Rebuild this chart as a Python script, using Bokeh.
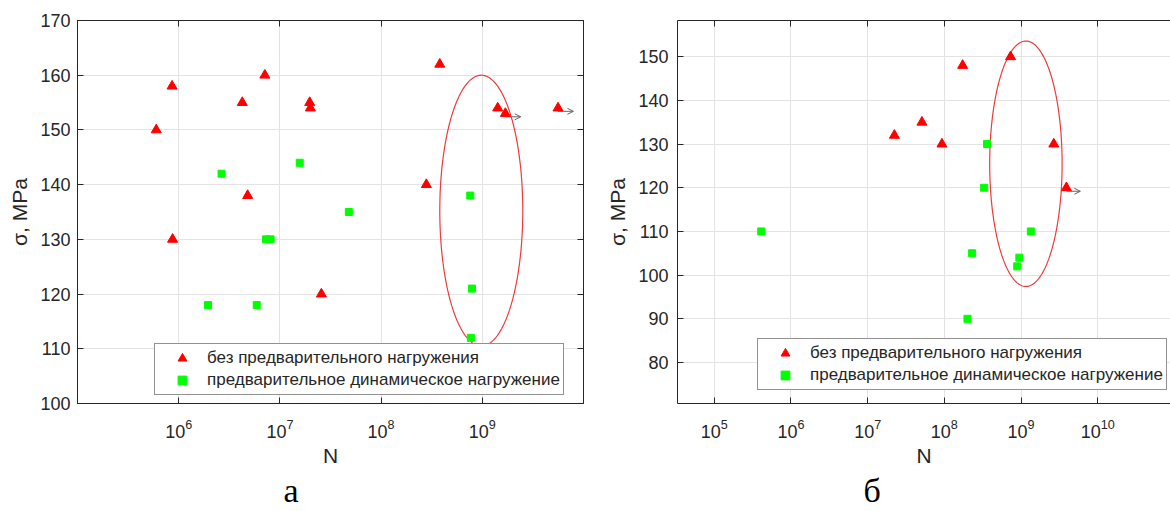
import numpy as np
from bokeh.plotting import figure
from bokeh.layouts import row
from bokeh.models import (LogAxis, LinearAxis, FixedTicker, Legend, LegendItem, Arrow,
                          OpenHead, Title, CustomJSTickFormatter, ColumnDataSource, Range1d)
from bokeh.embed import file_html
from bokeh.resources import INLINE

# ---------------- data: panel "а" ----------------
a_red_N = [6.0e5, 8.6e5, 8.7e5, 4.25e6, 4.8e6, 7.1e6, 1.97e7, 2.0e7, 2.57e7, 2.8e8, 3.8e8, 1.42e9, 1.69e9, 5.6e9]
a_red_S = [150, 158, 130, 155, 138, 160, 155, 154, 120, 140, 162, 154, 153, 154]
a_green_N = [1.95e6, 2.65e6, 5.9e6, 7.3e6, 8.1e6, 1.57e7, 4.8e7, 7.6e8, 7.9e8, 7.7e8]
a_green_S = [118, 142, 118, 130, 130, 144, 135, 138, 121, 112]
a_runout_N = [1.69e9, 5.6e9]
a_runout_S = [153, 154]
a_x_ticks = [1e6, 1e7, 1e8, 1e9]
a_y_ticks = [100, 110, 120, 130, 140, 150, 160, 170]
a_ellipse = dict(logN=8.99, S=135.25, half_log=0.41, half_S=24.75)

# ---------------- data: panel "б" ----------------
b_red_N = [2.23e7, 5.1e7, 9.3e7, 1.73e8, 7.3e8, 2.67e9, 3.9e9]
b_red_S = [132, 135, 130, 148, 150, 130, 120]
b_green_N = [4.1e5, 2.0e8, 2.3e8, 3.3e8, 3.6e8, 8.9e8, 9.5e8, 1.34e9]
b_green_S = [110, 90, 105, 120, 130, 102, 104, 110]
b_runout_N = [3.9e9]
b_runout_S = [120]
b_x_ticks = [1e5, 1e6, 1e7, 1e8, 1e9, 1e10]
b_y_ticks = [80, 90, 100, 110, 120, 130, 140, 150]
b_ellipse = dict(logN=9.063, S=125.5, half_log=0.472, half_S=28.1)

legend_labels = ["без предварительного нагружения", "предварительное динамическое нагружение"]
y_label = "σ, MPa"
x_label = "N"

FONT = "Liberation Sans"
AX = "#262626"
GRID = "#e3e3e3"


def panel(red_N, red_S, green_N, green_S, run_N, run_S, xt, yt, ell, caption,
          width, height, xr, yr, mb, legend_loc, caption_offset, arrow_ratio, arrow_dy,
          ylab_standoff, right_border=True):
    p = figure(width=width, height=height, x_axis_type="log",
               x_range=Range1d(*xr), y_range=Range1d(*yr),
               output_backend="svg", toolbar_location=None,
               min_border_left=mb[0], min_border_right=mb[1],
               min_border_top=mb[2], min_border_bottom=mb[3],
               background_fill_color="white", border_fill_color="white")
    p.outline_line_color = AX if right_border else None

    for ax in (p.xaxis[0], p.yaxis[0]):
        ax.axis_line_color = AX
        ax.major_tick_line_color = AX
        ax.major_tick_in = 6
        ax.major_tick_out = 0
        ax.minor_tick_in = 0
        ax.minor_tick_out = 0
        ax.major_label_text_font = FONT
        ax.major_label_text_font_size = "18px"
        ax.major_label_text_color = AX
        ax.axis_label_text_font = FONT
        ax.axis_label_text_font_size = "21px"
        ax.axis_label_text_font_style = "normal"
        ax.axis_label_text_color = AX
    p.xaxis.ticker = FixedTicker(ticks=xt)
    p.yaxis.ticker = FixedTicker(ticks=yt)
    p.xaxis.axis_label = x_label
    p.yaxis.axis_label = y_label
    p.xaxis.major_label_standoff = 15
    p.xaxis.axis_label_standoff = 3
    p.yaxis.major_label_standoff = ylab_standoff
    p.yaxis.axis_label_standoff = 6

    p.xgrid.ticker = FixedTicker(ticks=xt)
    p.ygrid.ticker = FixedTicker(ticks=yt)
    p.xgrid.grid_line_color = GRID
    p.ygrid.grid_line_color = GRID

    empty = CustomJSTickFormatter(code="return ''")
    top = LogAxis(ticker=FixedTicker(ticks=xt), formatter=empty, axis_line_color=AX,
                  major_tick_line_color=AX, major_tick_in=6, major_tick_out=0,
                  minor_tick_in=0, minor_tick_out=0, major_label_standoff=0,
                  major_label_text_font_size="0px")
    p.add_layout(top, "above")
    if right_border:
        rgt = LinearAxis(ticker=FixedTicker(ticks=yt), formatter=empty, axis_line_color=AX,
                         major_tick_line_color=AX, major_tick_in=6, major_tick_out=0,
                         minor_tick_in=0, minor_tick_out=0, major_label_standoff=0,
                         major_label_text_font_size="0px")
        p.add_layout(rgt, "right")

    # ellipse outline (computed from its centre and half-axes)
    t = np.linspace(0, 2 * np.pi, 240)
    ex = 10 ** (ell["logN"] + ell["half_log"] * np.cos(t))
    ey = ell["S"] + ell["half_S"] * np.sin(t)
    p.line(ex, ey, line_color="#f03a3a", line_width=1.2)

    # run-out arrows
    rn = np.array(run_N, dtype=float)
    rs = np.array(run_S, dtype=float)
    asrc = ColumnDataSource(dict(x0=rn, y0=rs - arrow_dy, x1=rn * arrow_ratio, y1=rs - arrow_dy))
    p.add_layout(Arrow(end=OpenHead(size=6, line_color="#666666", line_width=1),
                       x_start="x0", y_start="y0", x_end="x1", y_end="y1",
                       line_color="#666666", line_width=1, source=asrc, level="underlay"))

    r_red = p.scatter(red_N, red_S, marker="triangle", size=10, fill_color="#ff0000",
                      line_color="#ff0000", line_width=1)
    r_green = p.scatter(green_N, green_S, marker="square", size=7, fill_color="#00ff00",
                        line_color="#00ff00", line_width=1)

    leg = Legend(items=[LegendItem(label=legend_labels[0], renderers=[r_red]),
                        LegendItem(label=legend_labels[1], renderers=[r_green])],
                 location=legend_loc, margin=0, padding=3, spacing=0,
                 glyph_width=48, glyph_height=22, label_height=22, label_standoff=1,
                 label_text_font=FONT, label_text_font_size="17px", label_text_color=AX,
                 border_line_color=AX, border_line_width=1,
                 background_fill_color="white", background_fill_alpha=1)
    p.add_layout(leg)

    p.add_layout(Title(text=caption, align="left", offset=caption_offset, standoff=0,
                       text_font="Liberation Serif", text_font_size="34px",
                       text_font_style="normal", text_color="black"), "below")
    return p


p1 = panel(a_red_N, a_red_S, a_green_N, a_green_S, a_runout_N, a_runout_S,
           a_x_ticks, a_y_ticks, a_ellipse, "а",
           width=595, height=511, xr=(1e5, 1e10), yr=(100, 170),
           mb=(77, 12, 18, 108), legend_loc=(77, 8), caption_offset=206,
           arrow_ratio=1.42, arrow_dy=0.6, ylab_standoff=7)

p2 = panel(b_red_N, b_red_S, b_green_N, b_green_S, b_runout_N, b_runout_S,
           b_x_ticks, b_y_ticks, b_ellipse, "б",
           width=575, height=511, xr=(10 ** 4.521, 10 ** 10.948), yr=(70.6, 158.3),
           mb=(82, 0, 20, 105), legend_loc=(80, 13), caption_offset=186,
           arrow_ratio=1.52, arrow_dy=0.8, ylab_standoff=9, right_border=False)

layout = row(p1, p2)
open("out.html", "w").write(file_html(layout, INLINE))
